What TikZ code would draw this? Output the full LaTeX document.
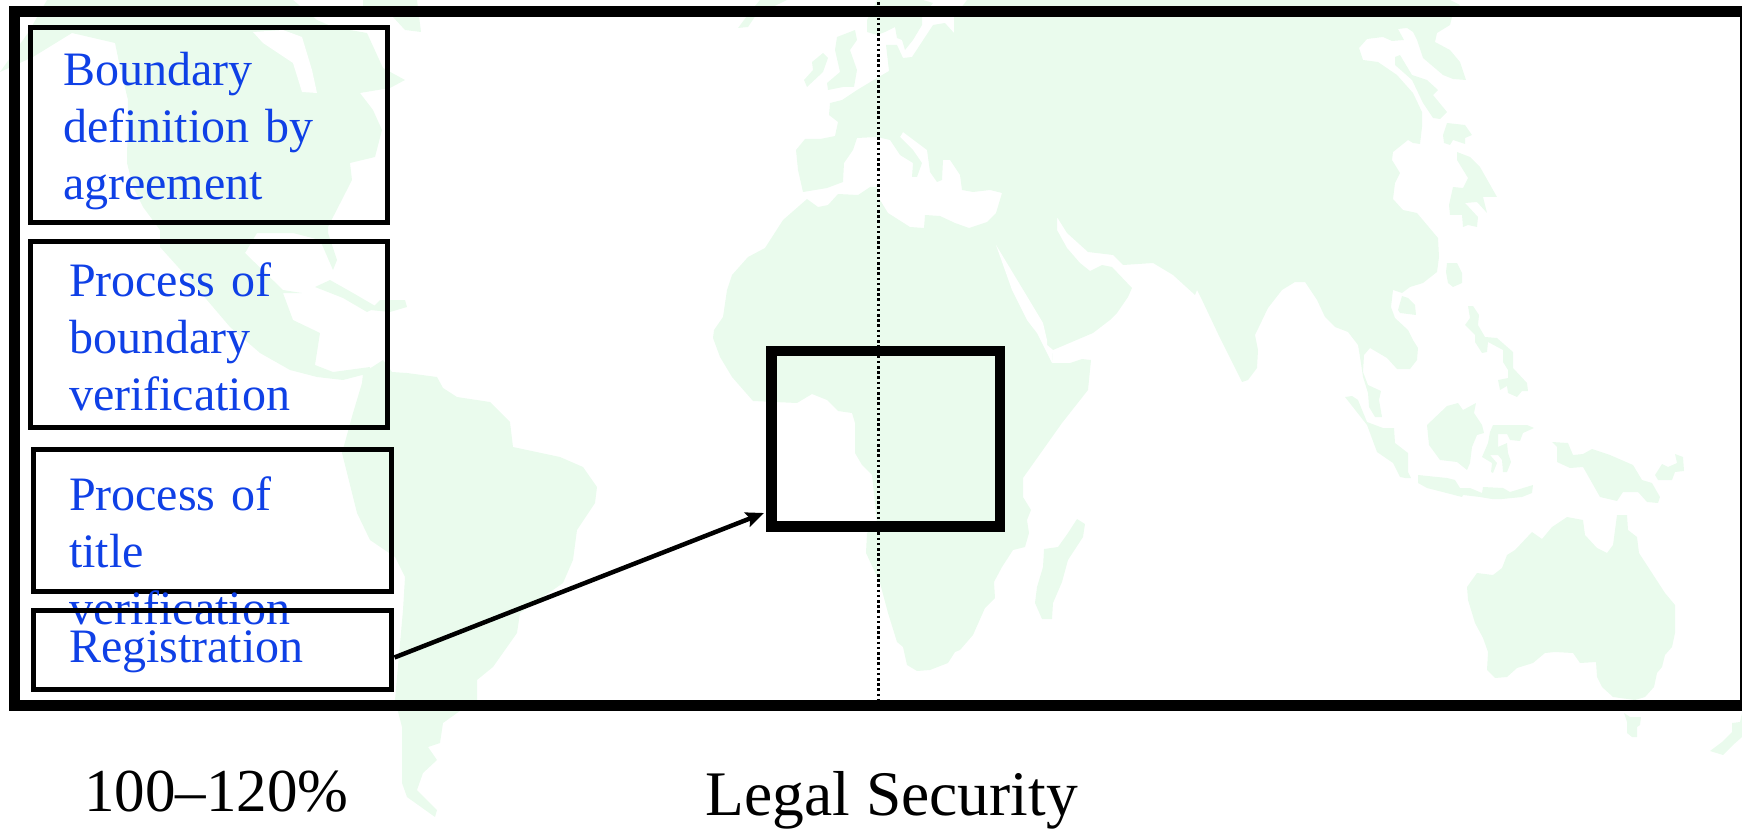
\documentclass[tikz,border=0pt]{standalone}
\usepackage{fontspec}
\setmainfont[Ligatures=NoCommon]{Liberation Serif}
\usetikzlibrary{arrows.meta}
\definecolor{landgreen}{HTML}{EAFBED}
\definecolor{labelblue}{HTML}{0F40E6}
\tikzset{
  land/.style={fill=landgreen,draw=none},
  water/.style={fill=white,draw=none},
  bluebox/.style={draw=black,line width=5pt,anchor=north west,outer sep=0pt,inner ysep=0pt,
    align=left,text=labelblue,font=\fontsize{48}{57}\selectfont},
  bigframe/.style={draw=black,rectangle,outer sep=0pt,inner sep=0pt,anchor=north west},
  caption/.style={anchor=base west,inner sep=0pt,text=black},
  meridian/.style={line width=2.5pt,dash pattern=on 2.6pt off 2.6pt},
  pointer/.style={line width=4.5pt,-{Stealth[length=18pt,width=15pt,inset=3pt]}}
}
\begin{document}
\begin{tikzpicture}[x=1pt,y=-1pt]
\useasboundingbox (0,0) rectangle (1742,829);
\clip (0,0) rectangle (1742,829);
% --- world map ---
% Eurasia + Africa
\path[land] (830,103)--(842,100)--(857,90)--(877,78)--(889,71)--(886,45)--(897,45)--(903,58)--(912,57)--(933,25)--(945,23)--(954,33)--(954,17)--(967,0)--(1450,0)--(1460,5)--(1452,17)--(1450,25)--(1437,33)--(1435,42)--(1450,50)--(1460,62)--(1466,80)--(1453,79)--(1443,75)--(1423,58)--(1417,40)--(1413,32)--(1407,28)--(1398,29)--(1404,40)--(1392,41)--(1383,37)--(1367,39)--(1359,48)--(1363,60)--(1378,62)--(1397,75)--(1413,93)--(1422,112)--(1422,127)--(1420,144)--(1413,143)--(1408,140)--(1393,152)--(1392,160)--(1400,173)--(1395,183)--(1393,199)--(1403,210)--(1417,213)--(1438,238)--(1439,257)--(1437,272)--(1423,283)--(1410,287)--(1402,293)--(1393,290)--(1391,307)--(1395,318)--(1408,330)--(1413,340)--(1418,348)--(1417,360)--(1410,369)--(1397,369)--(1387,358)--(1370,348)--(1364,355)--(1363,372)--(1368,385)--(1381,391)--(1379,400)--(1382,417)--(1375,417)--(1369,407)--(1368,393)--(1363,377)--(1360,357)--(1358,345)--(1348,332)--(1335,327)--(1325,317)--(1317,300)--(1305,282)--(1295,282)--(1282,290)--(1268,308)--(1255,335)--(1258,350)--(1257,368)--(1248,380)--(1242,382)--(1230,358)--(1220,338)--(1202,300)--(1197,290)--(1195,295)--(1173,275)--(1153,263)--(1123,265)--(1113,255)--(1088,252)--(1067,233)--(1057,217)--(1057,230)--(1067,248)--(1080,263)--(1090,271)--(1102,265)--(1112,267)--(1132,288)--(1128,297)--(1117,313)--(1110,320)--(1093,333)--(1053,350)--(1052,363)--(1070,363)--(1082,359)--(1091,360)--(1088,390)--(1062,423)--(1023,478)--(1023,497)--(1031,510)--(1027,520)--(1029,533)--(1025,547)--(1013,550)--(1002,567)--(994,582)--(995,598)--(985,608)--(973,635)--(960,650)--(955,652)--(948,663)--(930,670)--(917,671)--(907,665)--(903,647)--(897,642)--(888,613)--(880,583)--(866,553)--(867,533)--(877,523)--(872,475)--(862,465)--(855,453)--(855,423)--(852,413)--(838,411)--(827,400)--(812,394)--(797,403)--(753,401)--(732,377)--(720,357)--(713,338)--(714,330)--(723,317)--(727,290)--(732,275)--(748,257)--(765,248)--(783,220)--(807,199)--(818,207)--(828,205)--(838,194)--(858,195)--(870,187)--(877,187)--(880,200)--(888,213)--(910,227)--(924,228)--(925,215)--(940,216)--(955,223)--(969,228)--(987,222)--(996,213)--(1002,193)--(990,190)--(973,192)--(962,190)--(960,175)--(950,160)--(943,160)--(942,180)--(937,182)--(930,172)--(927,150)--(903,132)--(900,137)--(913,150)--(922,163)--(917,177)--(912,177)--(913,163)--(900,155)--(890,140)--(877,137)--(857,138)--(853,150)--(844,163)--(843,182)--(827,188)--(803,192)--(798,170)--(796,150)--(805,139)--(820,139)--(835,136)--(838,122)--(829,115)--cycle;
% Red Sea
\path[water] (996,245)--(1025,293)--(1043,323)--(1047,340)--(1047,345)--(1053,350)--(1052,363)--(1037,333)--(1027,320)--(1012,290)--cycle;
% Scandinavia
\path[land] (877,0)--(867,20)--(867,32)--(877,35)--(885,32)--(895,27)--(897,38)--(902,40)--(905,50)--(913,40)--(922,25)--(922,17)--(933,3)--(923,0)--cycle;
% Britain, Ireland, Iceland
\path[land] (837,37)--(855,30)--(857,40)--(850,50)--(857,70)--(854,87)--(843,87)--(828,90)--(827,83)--(840,72)--(835,50)--cycle;
\path[land] (812,62)--(823,53)--(828,58)--(823,72)--(807,87)--(804,80)--(813,70)--cycle;
\path[land] (738,28)--(748,27)--(756,15)--(787,0)--(760,0)--(750,12)--cycle;
% East Asia islands
\path[land] (1395,57)--(1400,55)--(1412,75)--(1427,80)--(1438,90)--(1433,95)--(1447,112)--(1440,119)--(1433,118)--(1423,103)--(1412,80)--(1395,65)--cycle;
\path[land] (1443,135)--(1447,123)--(1465,125)--(1472,135)--(1465,138)--(1465,144)--(1453,140)--(1450,145)--(1444,143)--cycle;
\path[land] (1457,152)--(1470,157)--(1480,167)--(1497,197)--(1483,197)--(1487,213)--(1477,202)--(1465,203)--(1478,217)--(1477,227)--(1468,225)--(1463,227)--(1462,215)--(1450,215)--(1449,205)--(1453,187)--(1463,188)--(1468,178)--(1457,160)--cycle;
\path[land] (1447,263)--(1457,263)--(1462,273)--(1462,283)--(1453,287)--(1448,283)--(1446,272)--cycle;
\path[land] (1402,296)--(1408,298)--(1415,305)--(1416,315)--(1400,313)--(1398,310)--cycle;
% Philippines
\path[land] (1468,306)--(1473,306)--(1479,315)--(1478,325)--(1485,337)--(1497,338)--(1513,352)--(1513,368)--(1527,383)--(1528,391)--(1522,391)--(1517,397)--(1508,393)--(1507,386)--(1500,390)--(1498,380)--(1508,378)--(1508,370)--(1503,362)--(1503,350)--(1488,342)--(1487,352)--(1482,353)--(1475,342)--(1475,335)--(1465,325)--(1470,318)--cycle;
% Indonesia
\path[land] (1345,397)--(1352,396)--(1358,400)--(1367,422)--(1383,428)--(1394,428)--(1395,443)--(1408,453)--(1408,472)--(1411,478)--(1405,478)--(1400,477)--(1393,463)--(1377,452)--(1367,425)--cycle;
\path[land] (1418,475)--(1447,478)--(1455,480)--(1460,488)--(1470,488)--(1482,493)--(1483,487)--(1503,488)--(1510,492)--(1533,485)--(1532,493)--(1522,497)--(1502,499)--(1492,499)--(1480,497)--(1463,495)--(1462,497)--(1427,488)--(1418,483)--cycle;
\path[land] (1427,425)--(1447,406)--(1458,403)--(1463,410)--(1476,403)--(1474,413)--(1482,425)--(1484,433)--(1477,435)--(1472,447)--(1470,463)--(1467,470)--(1457,462)--(1440,460)--(1429,445)--cycle;
\path[land] (1493,425)--(1527,425)--(1534,428)--(1523,433)--(1520,441)--(1510,440)--(1507,434)--(1498,434)--(1498,447)--(1507,443)--(1508,453)--(1511,462)--(1507,472)--(1503,472)--(1502,460)--(1498,455)--(1490,455)--(1497,463)--(1493,473)--(1491,472)--(1492,463)--(1482,457)--(1488,443)--(1490,432)--cycle;
\path[land] (1552,442)--(1568,443)--(1573,455)--(1583,454)--(1592,449)--(1610,455)--(1633,465)--(1642,480)--(1652,483)--(1660,497)--(1658,503)--(1647,502)--(1638,492)--(1623,492)--(1617,501)--(1600,497)--(1583,467)--(1570,468)--(1557,462)--(1557,447)--cycle;
\path[land] (1675,454)--(1683,457)--(1684,471)--(1675,472)--(1672,480)--(1658,480)--(1655,475)--(1662,464)--(1668,467)--(1677,463)--cycle;
% Australia, Tasmania, New Zealand
\path[land] (1467,587)--(1477,573)--(1493,575)--(1502,568)--(1507,555)--(1515,550)--(1532,532)--(1542,539)--(1552,527)--(1567,517)--(1583,520)--(1585,535)--(1597,548)--(1607,553)--(1613,545)--(1617,515)--(1627,515)--(1628,530)--(1637,537)--(1639,553)--(1665,593)--(1675,605)--(1675,633)--(1672,647)--(1665,655)--(1662,667)--(1657,673)--(1654,687)--(1645,697)--(1635,700)--(1613,697)--(1602,687)--(1597,677)--(1596,662)--(1580,663)--(1573,653)--(1555,652)--(1545,653)--(1533,663)--(1517,668)--(1507,677)--(1495,678)--(1487,670)--(1488,652)--(1483,638)--(1475,623)--(1468,600)--cycle;
\path[land] (1624,713)--(1630,717)--(1641,717)--(1640,725)--(1637,727)--(1637,737)--(1632,737)--(1627,733)--(1627,722)--cycle;
\path[land] (1742,713)--(1742,737)--(1733,745)--(1723,755)--(1710,751)--(1722,742)--(1732,732)--(1732,723)--(1740,722)--cycle;
% Madagascar
\path[land] (1077,519)--(1085,524)--(1083,537)--(1068,560)--(1062,582)--(1053,603)--(1052,619)--(1042,619)--(1035,603)--(1037,587)--(1043,567)--(1044,549)--(1058,547)--(1068,533)--cycle;
% North America
\path[land] (0,72)--(33,57)--(72,33)--(115,43)--(120,67)--(128,100)--(127,163)--(133,187)--(143,207)--(160,230)--(160,247)--(187,277)--(207,300)--(230,327)--(260,353)--(290,370)--(317,377)--(343,380)--(370,373)--(370,367)--(333,372)--(315,365)--(320,333)--(293,320)--(283,293)--(302,293)--(283,290)--(245,253)--(257,233)--(293,233)--(320,240)--(333,270)--(337,260)--(328,233)--(328,227)--(352,180)--(350,163)--(375,157)--(382,130)--(373,110)--(360,93)--(390,88)--(405,80)--(383,68)--(367,33)--(333,27)--(317,20)--(293,0)--(47,0)--(28,33)--cycle;
\path[water] (253,32)--(283,30)--(302,37)--(312,70)--(317,93)--(302,92)--(293,63)--(263,43)--cycle;
\path[land] (363,0)--(417,0)--(421,32)--(405,30)--(393,17)--(363,10)--cycle;
\path[land] (315,287)--(330,280)--(353,293)--(377,307)--(367,312)--(343,298)--cycle;
\path[land] (370,310)--(380,300)--(405,300)--(407,307)--(390,312)--cycle;
% South America
\path[land] (363,373)--(383,360)--(392,372)--(407,373)--(437,377)--(443,388)--(457,397)--(490,402)--(510,422)--(513,447)--(560,457)--(583,467)--(597,487)--(595,503)--(577,530)--(573,560)--(563,583)--(520,613)--(517,633)--(493,667)--(477,680)--(477,700)--(457,713)--(443,723)--(440,743)--(428,747)--(437,760)--(423,773)--(417,790)--(437,810)--(435,817)--(407,797)--(402,783)--(402,727)--(395,700)--(403,610)--(405,577)--(395,557)--(370,540)--(357,513)--(342,453)--(353,413)--(362,383)--cycle;
% --- meridian ---
\coordinate (mtop) at (878.7,2);
\coordinate (mbot) at (878.7,700);
\draw[meridian] (mtop) -- (mbot);
% --- frames ---
\node[bigframe,line width=11pt,minimum width=1731pt,minimum height=694pt] (frame) at (14.5,11.5) {};
\node[bigframe,line width=10.5pt,minimum width=228.5pt,minimum height=175.5pt] (target) at (771.5,351) {};
% --- boxes ---
\node[bluebox,inner xsep=32.5pt,text width=292pt,text height=58.5pt,text depth=136.5pt] (b1) at (30.5,27.5) {Boundary\\definition by\\agreement};
\node[bluebox,inner xsep=38.5pt,text width=280pt,text height=55.2pt,text depth=130.8pt] (b2) at (30.5,241.5) {Process of\\boundary\\verification};
\node[bluebox,inner xsep=36pt,text width=286pt,text height=61pt,text depth=81pt] (b3) at (33,449) {Process of title\\verification};
\node[bluebox,inner xsep=36pt,text width=286pt,text height=52pt,text depth=27.5pt] (b4) at (33,610) {Registration};
% --- arrow ---
\draw[pointer] ([xshift=3.5pt,yshift=-7.7pt]b4.east) -- ([xshift=-7.5pt,yshift=-74.25pt]target.west);
% --- captions ---
\node[caption,font=\fontsize{61}{70}\selectfont] (pct) at (84,811.7) {100–120\%};
\node[caption,font=\fontsize{63.5}{72}\selectfont] (legal) at (705.5,815.5) {Legal Security};
\end{tikzpicture}
\end{document}
